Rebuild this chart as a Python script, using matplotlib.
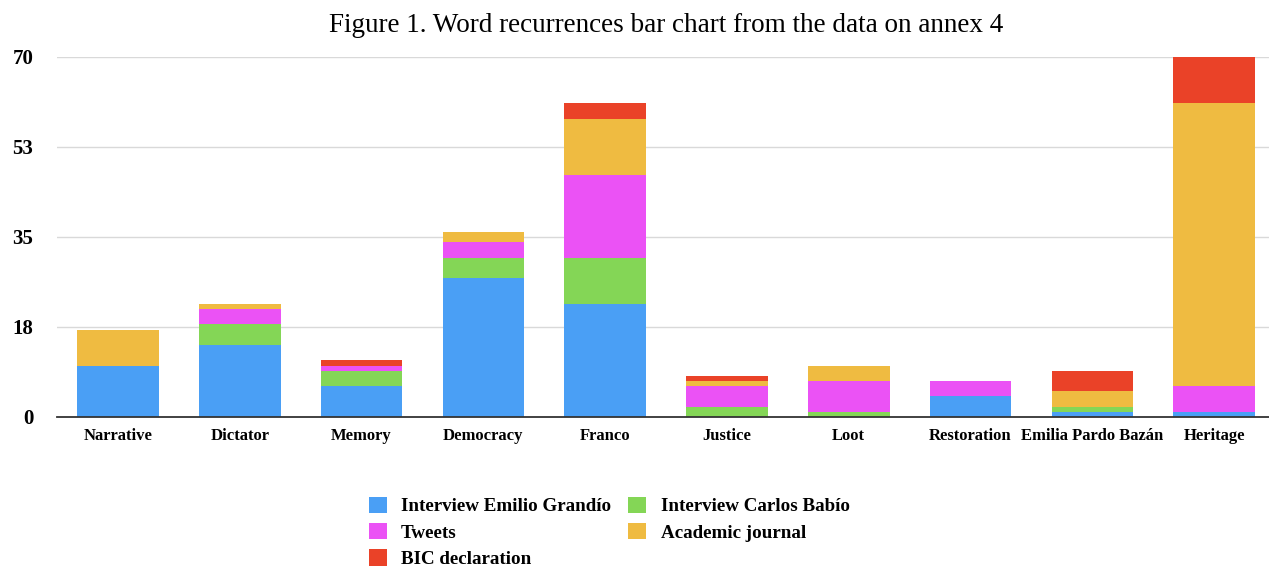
import numpy as np
import matplotlib
matplotlib.use("Agg")
import matplotlib.pyplot as plt
from matplotlib.patches import Patch

# --- data ---
categories = ["Narrative", "Dictator", "Memory", "Democracy", "Franco",
              "Justice", "Loot", "Restoration", "Emilia Pardo Bazán", "Heritage"]

emilio   = [10, 14, 6, 27, 22, 0, 0, 4, 1, 1]
carlos   = [0, 4, 3, 4, 9, 2, 1, 0, 1, 0]
tweets   = [0, 3, 1, 3, 16, 4, 6, 3, 0, 5]
academic = [7, 1, 0, 2, 11, 1, 3, 0, 3, 55]
bic      = [0, 0, 1, 0, 3, 1, 0, 0, 4, 9]

series = [
    ("Interview Emilio Grandío", emilio, "#4a9ff5"),
    ("Interview Carlos Babío", carlos, "#84d656"),
    ("Tweets", tweets, "#eb52f5"),
    ("Academic journal", academic, "#efbb41"),
    ("BIC declaration", bic, "#ea4228"),
]

ytick_vals = [0, 17.5, 35, 52.5, 70]
ytick_labels = ["0", "18", "35", "53", "70"]

plt.rcParams["font.family"] = ["Liberation Serif", "DejaVu Serif"]

fig = plt.figure(figsize=(12.69, 5.67), dpi=100)
ax = fig.add_axes([0.0449, 0.2646, 0.9551, 0.6349])

x = np.arange(len(categories))
bottom = np.zeros(len(categories))
for label, vals, color in series:
    vals = np.array(vals, dtype=float)
    ax.bar(x, vals, width=0.67, bottom=bottom, color=color, label=label,
           zorder=3, linewidth=0)
    bottom += vals

ax.set_xlim(-0.5, 9.45)
ax.set_ylim(0, 70)
ax.set_yticks(ytick_vals)
ax.set_yticklabels(ytick_labels, fontsize=15, fontweight="bold")
ax.set_xticks(x)
ax.set_xticklabels(categories, fontsize=12, fontweight="bold")
ax.tick_params(axis="both", length=0)
ax.tick_params(axis="y", pad=17)
ax.tick_params(axis="x", pad=8)

ax.grid(axis="y", color="#d9d9d9", linewidth=1, zorder=0)
for side in ["top", "right", "left"]:
    ax.spines[side].set_visible(False)
ax.spines["bottom"].set_color("#333333")
ax.spines["bottom"].set_linewidth(1.3)
ax.spines["bottom"].set_zorder(4)

fig.text(0.525, 0.955, "Figure 1. Word recurrences bar chart from the data on annex 4",
         ha="center", va="center", fontsize=19.5)

# legend is row-major in the original: reorder for matplotlib's column fill
handles = [Patch(facecolor=c, label=l) for l, _, c in series]
order = [0, 2, 4, 1, 3]
fig.legend([handles[i] for i in order], [handles[i].get_label() for i in order],
           ncol=2, loc="center", bbox_to_anchor=(0.480, 0.061), frameon=False,
           prop={"size": 13.7, "weight": "bold"}, handlelength=0.95, handleheight=0.95,
           columnspacing=0.9, labelspacing=0.4, handletextpad=0.75)

fig.savefig("out.png", dpi=100)
